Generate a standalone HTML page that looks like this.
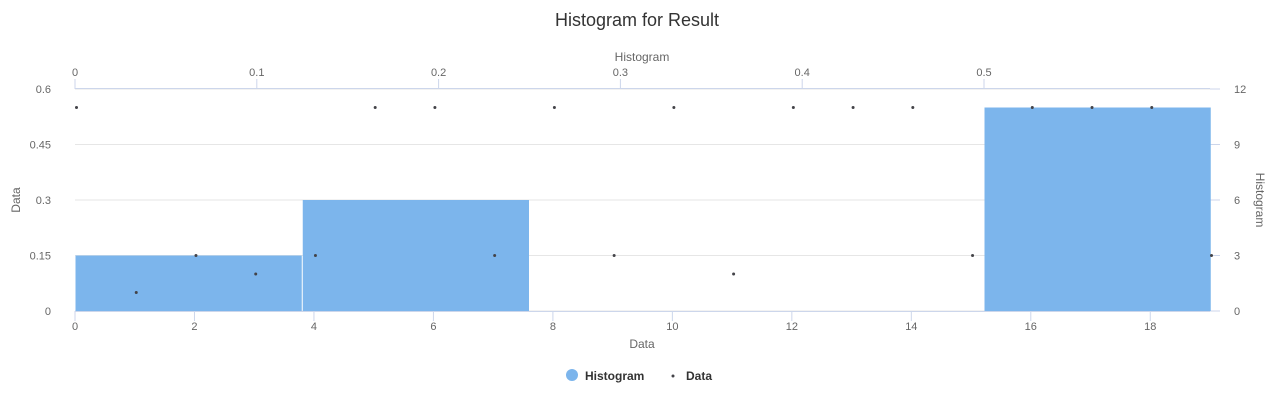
<!DOCTYPE html>
<html><head><meta charset="utf-8"><style>
body{margin:0;background:#fff;}
svg{font-family:"Liberation Sans",sans-serif;}
</style></head><body>
<svg id="c" width="1275" height="401"></svg>
<script>
const dataX=[0,1,2,3,4,5,6,7,8,9,10,11,12,13,14,15,16,17,18,19];
const dataY=[0.55,0.05,0.15,0.1,0.15,0.55,0.55,0.15,0.55,0.15,0.55,0.1,0.55,0.55,0.55,0.15,0.55,0.55,0.55,0.15];
const binStarts=[0,0.125,0.25,0.375,0.5];
const binCounts=[3,6,0,0,11];
const binWidth=0.125;
const leftTicks=[0,0.15,0.3,0.45,0.6];
const rightTicks=[0,3,6,9,12];
const bottomTicks=[0,2,4,6,8,10,12,14,16,18];
const topTicks=[0,0.1,0.2,0.3,0.4,0.5];

const L=75,R=1210,T=89,B=311;
const xB=v=>L+v*(R-L)/19;
const xT=v=>L+v*1818;
const yL=v=>B-v*(B-T)/0.6;
const yR=v=>B-v*(B-T)/12;
const svg=document.getElementById('c');
const NS='http://www.w3.org/2000/svg';
function mk(tag,attrs,parent){const e=document.createElementNS(NS,tag);for(const k in attrs)e.setAttribute(k,attrs[k]);(parent||svg).appendChild(e);return e;}
function txt(s,attrs,name){const e=mk('text',attrs);e.textContent=s;
return e;}

txt('Histogram for Result',{x:637,y:26,'text-anchor':'middle','font-size':18,fill:'#333'},'chart-title');
// grid
leftTicks.forEach(t=>{const g=mk('line',{x1:L,x2:R,y1:yL(t),y2:yL(t),stroke:'#e6e6e6'});


txt(String(t),{x:51,y:yL(t)+4,'text-anchor':'end','font-size':11,fill:'#666'},'left-tick-label');});
rightTicks.forEach(t=>{const g=mk('line',{x1:R,x2:R+10,y1:yR(t),y2:yR(t),stroke:'#ccd6eb'});


txt(String(t),{x:1234,y:yR(t)+4,'text-anchor':'start','font-size':11,fill:'#666'},'right-tick-label');});
// bars
binStarts.forEach((s,i)=>{if(!binCounts[i])return;const x0=xT(s),x1=xT(s+binWidth);
const r=mk('rect',{x:x0+0.5,y:yR(binCounts[i]),width:x1-x0-1,height:B-yR(binCounts[i]),fill:'#7cb5ec'});

});
// axes
let a=mk('line',{x1:L,x2:R,y1:B+0.5,y2:B+0.5,stroke:'#ccd6eb'});


a=mk('line',{x1:L,x2:R,y1:T-0.5,y2:T-0.5,stroke:'#ccd6eb'});


bottomTicks.forEach(t=>{const l=mk('line',{x1:xB(t),x2:xB(t),y1:B,y2:B+10,stroke:'#ccd6eb'});


txt(String(t),{x:xB(t),y:B+19,'text-anchor':'middle','font-size':11,fill:'#666'},'x-tick-label');});
topTicks.forEach(t=>{const l=mk('line',{x1:xT(t),x2:xT(t),y1:T-10,y2:T,stroke:'#ccd6eb'});


txt(String(t),{x:xT(t),y:T-13,'text-anchor':'middle','font-size':11,fill:'#666'},'top-tick-label');});
txt('Data',{x:642,y:348,'text-anchor':'middle','font-size':12,fill:'#666'},'x-axis-title');
txt('Histogram',{x:642,y:61,'text-anchor':'middle','font-size':12,fill:'#666'},'top-axis-title');
txt('Data',{x:20,y:200,'text-anchor':'middle','font-size':12,fill:'#666',transform:'rotate(-90 20 200)'},'y-axis-title');
txt('Histogram',{x:1256,y:200,'text-anchor':'middle','font-size':12,fill:'#666',transform:'rotate(90 1256 200)'},'right-axis-title');
// points
dataX.forEach((x,i)=>{const c=mk('circle',{cx:xB(x)+1.5,cy:yL(dataY[i]),r:1.5,fill:'#434348'});

});
// legend
let g=mk('g',{});


mk('circle',{cx:572,cy:375,r:6,fill:'#7cb5ec'},g);
let t=mk('text',{x:585,y:380,'font-size':12,'font-weight':'bold',fill:'#333'},g);t.textContent='Histogram';
g=mk('g',{});


mk('circle',{cx:673,cy:376,r:1.5,fill:'#434348'},g);
t=mk('text',{x:686,y:380,'font-size':12,'font-weight':'bold',fill:'#333'},g);t.textContent='Data';
</script>
</body></html>
